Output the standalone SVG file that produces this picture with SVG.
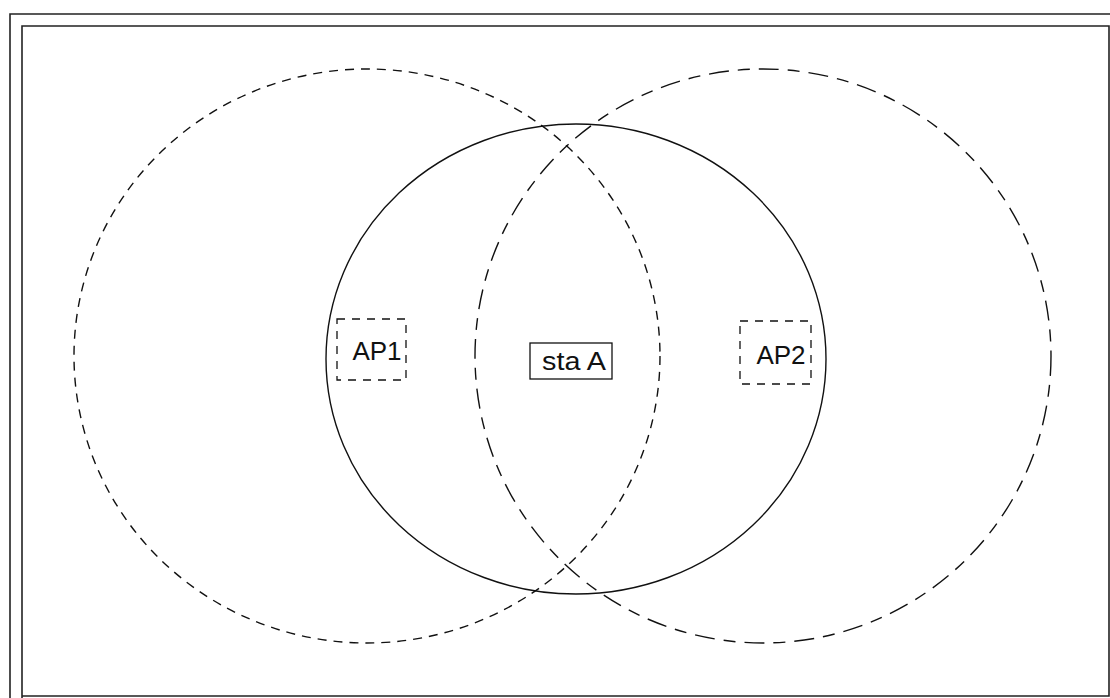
<svg xmlns="http://www.w3.org/2000/svg" width="1110" height="698" viewBox="0 0 1110 698">
<style>
.frame{fill:none;stroke:#222;stroke-width:1.6}
.c{fill:none;stroke:#111;stroke-width:1.4}
.dl{stroke-dasharray:9 7}
.dr{stroke-dasharray:20 9 12 9}
.box{fill:none;stroke:#111;stroke-width:1.3}
.dbox{stroke-dasharray:8 7}
text{font-family:"Liberation Sans",Arial,sans-serif;font-size:26px;fill:#111;text-anchor:middle;dominant-baseline:central}
</style>
<rect width="1110" height="698" fill="#fff"/>
<g id="frame">
<path class="frame" d="M10,700 L10,14 L1112,14"/>
<path class="frame" d="M22,700 L22,26 L1109,26 L1109,696 L22,696"/>
</g>
<g id="connectors">
<ellipse id="range-ap1" class="c dl" cx="367" cy="356" rx="293" ry="287"/>
<ellipse id="range-sta" class="c" cx="576" cy="359" rx="250" ry="235"/>
<ellipse id="range-ap2" class="c dr" cx="763" cy="356" rx="288" ry="287"/>
</g>
<g id="ap1">
<rect class="box dbox" x="337" y="319" width="69" height="61"/>
<text x="377" y="351">AP1</text>
</g>
<g id="staA">
<rect class="box" x="530" y="343" width="82" height="36"/>
<text x="574" y="361" textLength="64" lengthAdjust="spacingAndGlyphs">sta A</text>
</g>
<g id="ap2">
<rect class="box dbox" x="740" y="321" width="71" height="63"/>
<text x="781" y="355">AP2</text>
</g>
</svg>
